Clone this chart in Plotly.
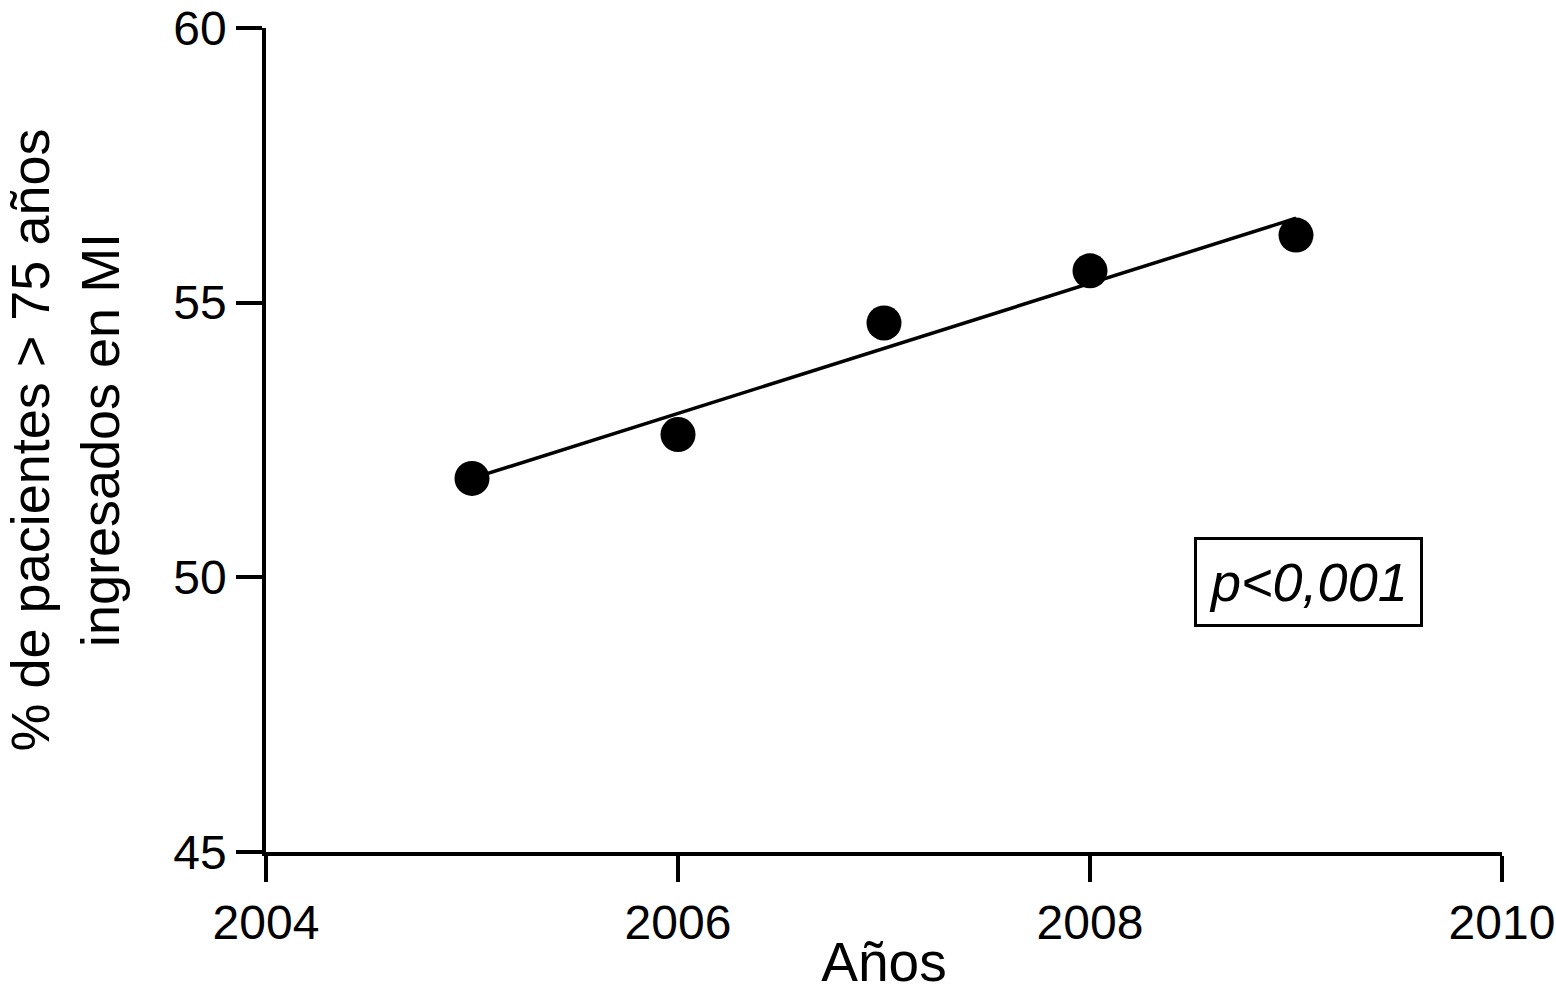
import numpy as np
import plotly.graph_objects as go

years = [2005, 2006, 2007, 2008, 2009]
pct = [51.8, 52.6, 54.63, 55.58, 56.23]
x_ticks = [2004, 2006, 2008, 2010]
y_ticks = [45, 50, 55, 60]

slope, intercept = np.polyfit(years, pct, 1)
fit_x = [years[0], years[-1]]
fit_y = [slope * v + intercept for v in fit_x]

FONT = "Liberation Sans, Arial, Helvetica, sans-serif"

fig = go.Figure()
fig.add_trace(go.Scatter(x=fit_x, y=fit_y, mode="lines",
                         line=dict(color="black", width=3.5), showlegend=False))
fig.add_trace(go.Scatter(x=years, y=pct, mode="markers",
                         marker=dict(color="black", size=35), showlegend=False))

fig.add_annotation(x=2009.06, y=49.92, xref="x", yref="y", text="<i>p<0,001</i>",
                   showarrow=False, font=dict(family=FONT, size=54, color="black"),
                   bordercolor="black", borderwidth=3, borderpad=12, bgcolor="white")

fig.update_layout(
    width=1556, height=993,
    margin=dict(l=266, r=54, t=28, b=141),
    paper_bgcolor="white", plot_bgcolor="white",
    font=dict(family=FONT, color="black", size=48),
)
fig.update_xaxes(range=[2004, 2010], tickvals=x_ticks, showgrid=False, zeroline=False,
                 showline=True, linecolor="black", linewidth=3.5, automargin=False,
                 ticks="outside", ticklen=26, tickwidth=3.5, tickcolor="black",
                 tickfont=dict(size=48), ticklabeloverflow="allow",
                 title=dict(text="Años", font=dict(size=55), standoff=0))
fig.update_yaxes(range=[45, 60], tickvals=y_ticks, showgrid=False, zeroline=False,
                 showline=True, linecolor="black", linewidth=3.5, automargin=False,
                 ticks="outside", ticklen=26, tickwidth=3.5, tickcolor="black",
                 tickfont=dict(size=48), ticklabeloverflow="allow",
                 title=dict(text="% de pacientes > 75 años<br>ingresados en MI",
                            font=dict(size=54), standoff=51))

fig.write_html("out.html", config={"displayModeBar": False},
               post_script="document.body.style.margin='0';document.body.style.overflow='hidden';")
